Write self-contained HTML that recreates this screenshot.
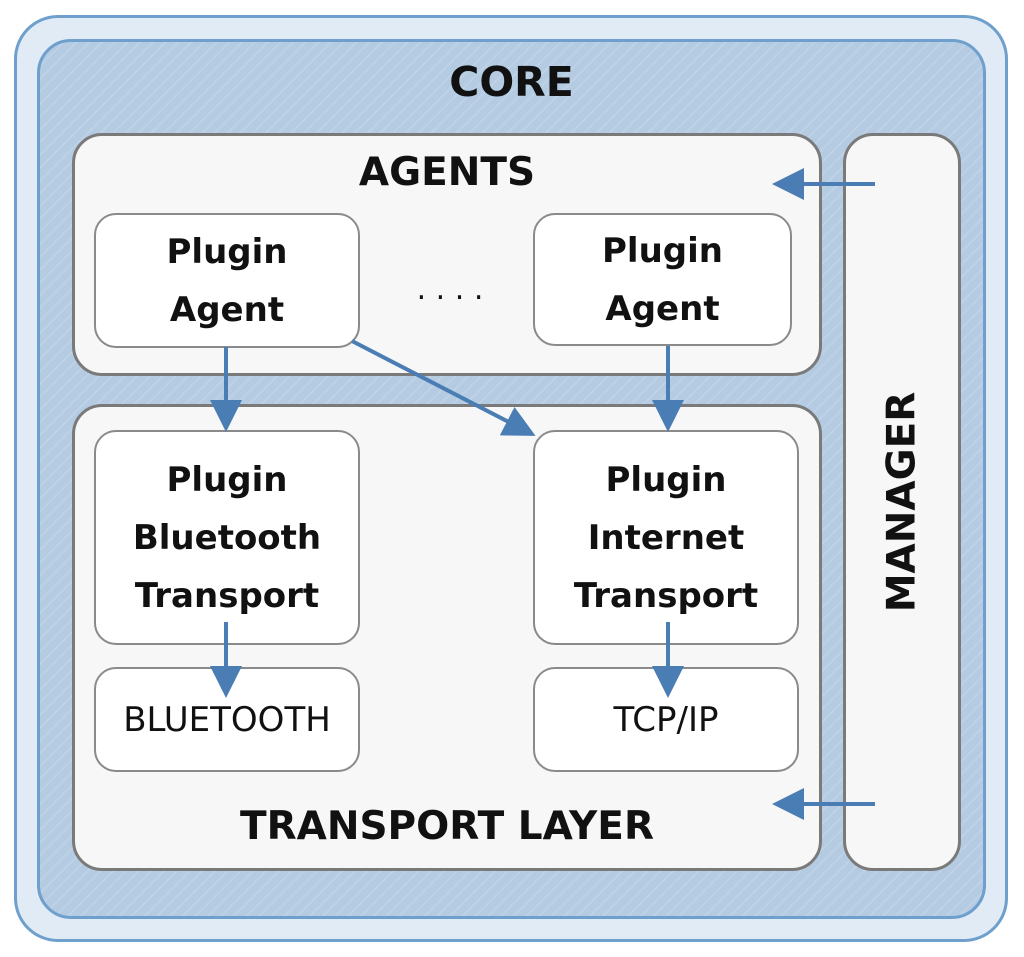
<!DOCTYPE html>
<html><head><style>
body{margin:0;width:1024px;height:957px;background:#fff;overflow:hidden;font-family:"DejaVu Sans","Liberation Sans",sans-serif}
.b{position:absolute;box-sizing:border-box}
.t{position:absolute;text-align:center;font-weight:bold;color:#111}
.box{position:absolute;box-sizing:border-box;border:2px solid #8a8a8a;border-radius:22px;background:#fff;display:flex;align-items:center;justify-content:center;text-align:center;font-weight:bold;font-size:34px;line-height:58px;color:#111}
</style></head><body>
<div class="b" style="left:14px;top:15px;width:994px;height:927px;border:3px solid #6e9fcd;border-radius:44px;background:#e1ebf5"></div>
<div class="b" style="left:37px;top:39px;width:949px;height:880px;border:3px solid #6e9fcd;border-radius:34px;background:repeating-linear-gradient(135deg,#b4cbe2 0 7px,#bdd2e7 7px 9px)"></div>
<div class="t" style="left:37px;width:949px;top:58px;font-size:41px">CORE</div>
<div class="b" style="left:72px;top:133px;width:750px;height:243px;border:3px solid #7a7a7a;border-radius:30px;background:#f7f7f7"></div>
<div class="t" style="left:72px;width:750px;top:150px;font-size:39px">AGENTS</div>
<div class="b" style="left:72px;top:404px;width:750px;height:467px;border:3px solid #7a7a7a;border-radius:30px;background:#f7f7f7"></div>
<div class="t" style="left:72px;width:750px;top:804px;font-size:39px">TRANSPORT LAYER</div>
<div class="b" style="left:843px;top:133px;width:118px;height:738px;border:3px solid #7a7a7a;border-radius:30px;background:#f7f7f7"></div>
<div class="t" style="left:902px;top:502px;font-size:39px;transform:translate(-50%,-50%) rotate(-90deg);white-space:nowrap;width:300px">MANAGER</div>
<div class="box" style="left:94px;top:213px;width:266px;height:135px">Plugin<br>Agent</div>
<div class="box" style="left:533px;top:213px;width:259px;height:133px">Plugin<br>Agent</div>
<div class="t" style="left:380px;width:140px;top:272px;font-size:30px;font-weight:normal">. . . .</div>
<div class="box" style="left:94px;top:430px;width:266px;height:215px">Plugin<br>Bluetooth<br>Transport</div>
<div class="box" style="left:533px;top:430px;width:266px;height:215px">Plugin<br>Internet<br>Transport</div>
<div class="box" style="left:94px;top:667px;width:266px;height:105px;font-weight:normal">BLUETOOTH</div>
<div class="box" style="left:533px;top:667px;width:266px;height:105px;font-weight:normal">TCP/IP</div>
<svg class="b" style="left:0;top:0" width="1024" height="957">
<defs><marker id="a" markerWidth="8" markerHeight="8" refX="7" refY="4" orient="auto"><path d="M0,0L8,4L0,8z" fill="#4a7db4"/></marker></defs>
<g stroke="#4a7db4" stroke-width="4" fill="none" marker-end="url(#a)">
<line x1="875" y1="184" x2="776" y2="184"/>
<line x1="875" y1="804" x2="776" y2="804"/>
<line x1="226" y1="347" x2="226" y2="428"/>
<line x1="668" y1="346" x2="668" y2="428"/>
<line x1="352" y1="341" x2="532" y2="434"/>
<line x1="226" y1="622" x2="226" y2="694"/>
<line x1="668" y1="622" x2="668" y2="694"/>
</g></svg>
</body></html>
